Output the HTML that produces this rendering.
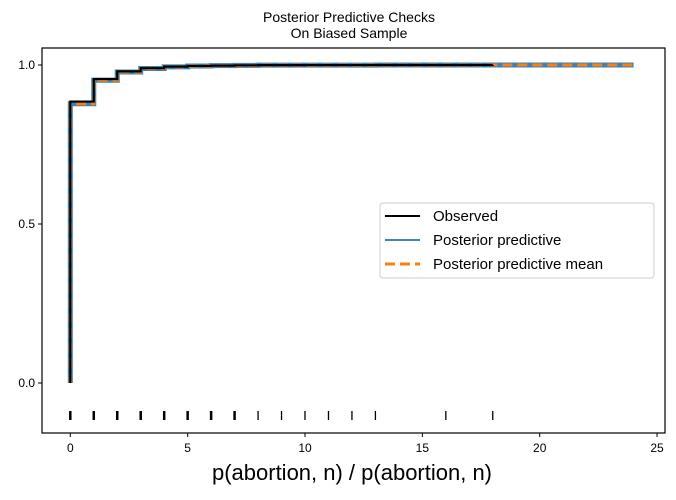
<!DOCTYPE html>
<html><head><meta charset="utf-8"><style>
body{margin:0;background:#fff;}
svg text{font-family:"Liberation Sans",sans-serif;}
</style></head><body>
<svg id="chart" width="676" height="495" xmlns="http://www.w3.org/2000/svg">
<rect width="676" height="495" fill="#fff"/>
<text x="349" y="22" text-anchor="middle" font-size="14">Posterior Predictive Checks</text>
<text x="349" y="38" text-anchor="middle" font-size="14">On Biased Sample</text>
<g id="marks"></g>
<rect x="42" y="48" width="623" height="385" fill="none" stroke="#000" stroke-width="1.2"/>
<g id="axes"></g>
<text x="352" y="480" text-anchor="middle" font-size="22">p(abortion, n) / p(abortion, n)</text>
<g>
<rect x="380" y="203" width="274" height="75" rx="3" fill="#fff" stroke="#ccc"/>
<line x1="385" y1="216" x2="420" y2="216" stroke="#000" stroke-width="2"/>
<text x="433" y="221" font-size="15">Observed</text>
<line x1="385" y1="240" x2="420" y2="240" stroke="#1f77b4" stroke-width="1.8"/>
<text x="433" y="245" font-size="15">Posterior predictive</text>
<line x1="385" y1="264" x2="420" y2="264" stroke="#ff7f0e" stroke-width="3" stroke-dasharray="10,5"/>
<text x="433" y="269" font-size="15">Posterior predictive mean</text>
</g>
</svg>
<script>
const stepsX = [0,1,2,3,4,5,6,7,8,10,13,18];
const observedY = [0.885,0.956,0.98,0.99,0.995,0.997,0.998,0.999,0.9995,0.9998,0.9999,1.0];
const meanY = [0.878,0.952,0.978,0.989,0.994,0.997,0.998,0.999,0.9995,0.9998,0.9999,1.0];
const ppcEndX = 24;
const rugX = [0,1,2,3,4,5,6,7,8,9,10,11,12,13,16,18];
const xTicks = [0,5,10,15,20,25];
const yTicks = [0,0.5,1.0];
const yTickLabels = ["0.0","0.5","1.0"];

const sx = v => 70.3 + v*23.47;
const sy = v => 383 - v*318;
const NS="http://www.w3.org/2000/svg";
const marks=document.getElementById('marks'), axes=document.getElementById('axes');
function mk(tag,attrs,parent){const e=document.createElementNS(NS,tag);for(const k in attrs)e.setAttribute(k,attrs[k]);parent.appendChild(e);return e;}
function stepPath(ys,endX){
  let d=`M${sx(stepsX[0])},${sy(0)} L${sx(stepsX[0])},${sy(ys[0])}`;
  for(let i=1;i<stepsX.length;i++){d+=` L${sx(stepsX[i])},${sy(ys[i-1])} L${sx(stepsX[i])},${sy(ys[i])}`;}
  d+=` L${sx(endX)},${sy(ys[ys.length-1])}`;return d;
}
const ppc=mk('path',{d:stepPath(meanY,ppcEndX),fill:'none',stroke:'#1f77b4','stroke-width':5,'stroke-opacity':0.9},marks);


const mean=mk('path',{d:stepPath(meanY,ppcEndX),fill:'none',stroke:'#ff7f0e','stroke-width':3,'stroke-dasharray':'10,5'},marks);


const obs=mk('path',{d:stepPath(observedY,stepsX[stepsX.length-1]),fill:'none',stroke:'#000','stroke-width':2.2},marks);


rugX.forEach((v,i)=>{
  const r=mk('line',{x1:sx(v),x2:sx(v),y1:411,y2:420,stroke:'#000','stroke-width':v<=7?2.5:1.3},marks);
  
  
});
xTicks.forEach(v=>{
  mk('line',{x1:sx(v),x2:sx(v),y1:433,y2:437,stroke:'#000'},axes);
  const t=mk('text',{x:sx(v),y:452,'text-anchor':'middle','font-size':12},axes);t.textContent=v;
  
  
});
yTicks.forEach((v,i)=>{
  mk('line',{x1:38,x2:42,y1:sy(v),y2:sy(v),stroke:'#000'},axes);
  const t=mk('text',{x:35,y:sy(v)+4,'text-anchor':'end','font-size':12},axes);t.textContent=yTickLabels[i];
  
  
});
</script>
</body></html>
